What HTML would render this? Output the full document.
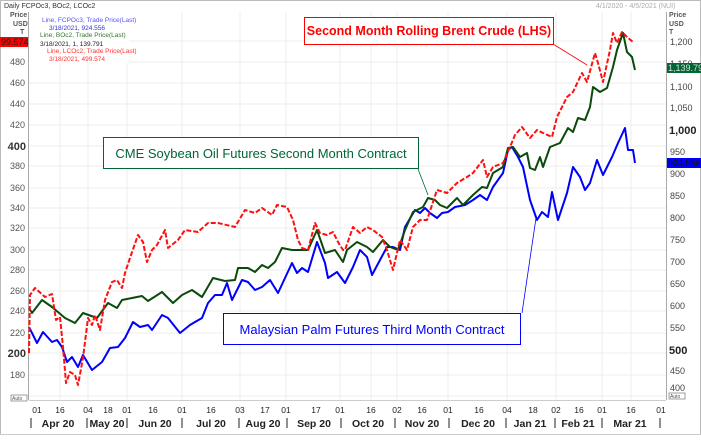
<!DOCTYPE html>
<html><head><meta charset="utf-8"><style>
body{margin:0;background:#fff;}
svg{display:block;font-family:"Liberation Sans",sans-serif;}
</style></head><body>
<svg width="701" height="440" viewBox="0 0 701 440">
<rect x="0" y="0" width="701" height="440" fill="#fff"/>
<rect x="0.5" y="0.5" width="700" height="434" fill="none" stroke="#bbb"/>
<rect x="29" y="12" width="637" height="388" fill="#fff"/>
<g stroke="#ececec" stroke-width="1">
<line x1="29" y1="62" x2="666" y2="62"/><line x1="29" y1="83" x2="666" y2="83"/><line x1="29" y1="104" x2="666" y2="104"/><line x1="29" y1="125" x2="666" y2="125"/><line x1="29" y1="146" x2="666" y2="146"/><line x1="29" y1="166" x2="666" y2="166"/><line x1="29" y1="188" x2="666" y2="188"/><line x1="29" y1="208" x2="666" y2="208"/><line x1="29" y1="228" x2="666" y2="228"/><line x1="29" y1="250" x2="666" y2="250"/><line x1="29" y1="270" x2="666" y2="270"/><line x1="29" y1="291" x2="666" y2="291"/><line x1="29" y1="311" x2="666" y2="311"/><line x1="29" y1="333" x2="666" y2="333"/><line x1="29" y1="353" x2="666" y2="353"/><line x1="29" y1="375" x2="666" y2="375"/><line x1="29" y1="396" x2="666" y2="396"/><line x1="29" y1="41" x2="666" y2="41"/>
<line x1="60" y1="12" x2="60" y2="400"/><line x1="88" y1="12" x2="88" y2="400"/><line x1="127" y1="12" x2="127" y2="400"/><line x1="182" y1="12" x2="182" y2="400"/><line x1="240" y1="12" x2="240" y2="400"/><line x1="286" y1="12" x2="286" y2="400"/><line x1="340" y1="12" x2="340" y2="400"/><line x1="371" y1="12" x2="371" y2="400"/><line x1="397" y1="12" x2="397" y2="400"/><line x1="448" y1="12" x2="448" y2="400"/><line x1="507" y1="12" x2="507" y2="400"/><line x1="556" y1="12" x2="556" y2="400"/><line x1="602" y1="12" x2="602" y2="400"/><line x1="631" y1="12" x2="631" y2="400"/>
</g>
<line x1="28.5" y1="12" x2="28.5" y2="400" stroke="#aaa"/>
<line x1="666.5" y1="12" x2="666.5" y2="400" stroke="#aaa"/>
<line x1="29" y1="400.5" x2="666" y2="400.5" stroke="#ccc"/>
<line x1="0" y1="434.5" x2="701" y2="434.5" stroke="#ccc"/>
<text x="4" y="8" font-size="7" fill="#333">Daily  FCPOc3, BOc2, LCOc2</text>
<text x="596" y="8" font-size="7" fill="#aaa">4/1/2020 - 4/5/2021 (NUI)</text>
<g font-size="7" fill="#555" font-weight="bold"><text x="10" y="17">Price</text><text x="13" y="26">USD</text><text x="20" y="34">T</text>
<text x="669" y="17">Price</text><text x="669" y="26">USD</text><text x="669" y="34">T</text></g>
<rect x="29" y="12" width="100" height="51" fill="#fff"/>
<g font-size="6.5"><text x="42" y="22" fill="#55f">Line, FCPOc3, Trade Price(Last)</text><text x="49" y="30" fill="#33c">3/18/2021, 924.556</text>
<text x="40" y="37" fill="#373">Line, BOc2, Trade Price(Last)</text><text x="40" y="46" fill="#222">3/18/2021, 1, 139.791</text>
<text x="47" y="53" fill="#f33">Line, LCOc2, Trade Price(Last)</text><text x="49" y="61" fill="#f33">3/18/2021, 499.574</text></g>
<rect x="0" y="37" width="28" height="10" fill="#f00"/><text x="1" y="45" font-size="9" fill="#222">99.574</text>
<g font-size="9" fill="#555" text-anchor="end">
<text x="25" y="65">480</text><text x="25" y="86">460</text><text x="25" y="107">440</text><text x="25" y="128">420</text><text x="26" y="150" font-size="11" font-weight="bold" fill="#333">400</text><text x="25" y="169">380</text><text x="25" y="191">360</text><text x="25" y="211">340</text><text x="25" y="231">320</text><text x="25" y="253">300</text><text x="25" y="273">280</text><text x="25" y="294">260</text><text x="25" y="314">240</text><text x="25" y="336">220</text><text x="26" y="357" font-size="11" font-weight="bold" fill="#333">200</text><text x="25" y="378">180</text></g>
<g font-size="9" fill="#444">
<text x="670" y="45">1,200</text><text x="670" y="67">1,150</text><text x="670" y="90">1,100</text><text x="670" y="111">1,050</text><text x="669" y="134" font-size="11" font-weight="bold" fill="#222">1,000</text><text x="670" y="155">950</text><text x="670" y="177">900</text><text x="670" y="199">850</text><text x="670" y="221">800</text><text x="670" y="243">750</text><text x="670" y="265">700</text><text x="670" y="287">650</text><text x="670" y="309">600</text><text x="670" y="331">550</text><text x="669" y="354" font-size="11" font-weight="bold" fill="#222">500</text><text x="670" y="374">450</text><text x="670" y="391">400</text></g>
<rect x="667" y="63" width="34" height="10" fill="#063"/><text x="668" y="71" font-size="9" fill="#ddd">1,139.79</text>
<rect x="667" y="158" width="34" height="10" fill="#00f"/><text x="668" y="166" font-size="9" fill="#111">924.556</text>
<rect x="11" y="395" width="16" height="6" fill="#fff" stroke="#777" stroke-width="0.7"/><text x="12" y="400" font-size="5" fill="#555">Auto</text>
<rect x="669" y="393" width="16" height="6" fill="#fff" stroke="#777" stroke-width="0.7"/><text x="670" y="398" font-size="5" fill="#555">Auto</text>
<g font-size="8.5" fill="#222" text-anchor="middle">
<text x="37" y="413">01</text><text x="60" y="413">16</text><text x="88" y="413">04</text><text x="108" y="413">18</text><text x="127" y="413">01</text><text x="153" y="413">16</text><text x="182" y="413">01</text><text x="211" y="413">16</text><text x="240" y="413">03</text><text x="265" y="413">17</text><text x="286" y="413">01</text><text x="316" y="413">17</text><text x="340" y="413">01</text><text x="371" y="413">16</text><text x="397" y="413">02</text><text x="422" y="413">16</text><text x="448" y="413">01</text><text x="479" y="413">16</text><text x="507" y="413">04</text><text x="533" y="413">18</text><text x="556" y="413">02</text><text x="579" y="413">16</text><text x="602" y="413">01</text><text x="631" y="413">16</text><text x="661" y="413">01</text></g>
<g font-size="10.5" font-weight="bold" fill="#222" text-anchor="middle">
<text x="58" y="427">Apr 20</text><text x="107" y="427">May 20</text><text x="155" y="427">Jun 20</text><text x="211" y="427">Jul 20</text><text x="263" y="427">Aug 20</text><text x="314" y="427">Sep 20</text><text x="368" y="427">Oct 20</text><text x="422" y="427">Nov 20</text><text x="478" y="427">Dec 20</text><text x="530" y="427">Jan 21</text><text x="578" y="427">Feb 21</text><text x="630" y="427">Mar 21</text></g>
<g stroke="#222" stroke-width="1"><line x1="31" y1="418" x2="31" y2="428"/><line x1="87" y1="418" x2="87" y2="428"/><line x1="127" y1="418" x2="127" y2="428"/><line x1="182" y1="418" x2="182" y2="428"/><line x1="239" y1="418" x2="239" y2="428"/><line x1="287" y1="418" x2="287" y2="428"/><line x1="341" y1="418" x2="341" y2="428"/><line x1="395" y1="418" x2="395" y2="428"/><line x1="449" y1="418" x2="449" y2="428"/><line x1="506" y1="418" x2="506" y2="428"/><line x1="555" y1="418" x2="555" y2="428"/><line x1="602" y1="418" x2="602" y2="428"/><line x1="660" y1="418" x2="660" y2="428"/></g>
<g fill="none" stroke-width="2" stroke-linejoin="round">
<polyline stroke="#0000ff" points="29,327 37,343 43,332 52,342 57,340 62,347 67,362 72,357 78,367 83,355 92,370 102,362 110,348 118,347 125,338 133,322 140,327 148,325 152,330 162,315 168,318 180,333 190,325 195,322 202,318 208,303 215,295 222,295 227,283 232,300 242,280 248,282 255,290 262,287 270,280 278,293 292,263 297,273 302,268 308,272 317,242 325,263 328,278 337,272 345,283 353,267 360,250 367,257 372,275 380,260 387,247 393,247 400,250 405,227 415,210 420,213 425,208 430,213 437,218 442,213 448,212 455,207 465,205 473,200 480,195 487,200 493,187 503,173 508,150 512,147 518,157 523,167 530,200 537,220 542,212 548,217 552,192 558,220 567,193 573,167 580,177 585,190 590,183 597,160 603,175 612,157 618,143 625,128 628,150 633,150 635,163"/>
<polyline stroke="#0a4a0a" points="29,308 32,313 42,300 52,307 65,318 75,323 83,313 97,318 108,303 117,308 122,300 132,298 142,296 148,301 162,292 173,303 182,295 192,290 202,297 213,278 225,281 235,280 238,268 248,268 255,272 262,265 268,268 275,262 282,248 292,250 298,250 308,250 317,230 325,253 335,250 343,262 347,250 357,242 367,247 373,252 383,240 390,247 398,250 405,230 413,212 423,207 428,198 435,200 440,205 447,208 457,198 463,205 473,195 482,187 487,188 493,173 503,167 508,148 513,147 520,157 527,153 530,168 535,170 540,157 543,167 550,147 560,143 568,128 573,132 578,118 585,120 590,107 593,87 600,92 607,88 613,67 617,50 623,33 627,52 632,57 635,70"/>
<polyline stroke="#ff1010" stroke-dasharray="5,2" points="29,353 30,295 35,288 45,297 52,294 56,320 60,317 63,347 66,383 70,372 75,375 78,385 83,358 88,318 92,325 95,315 100,330 105,300 112,282 117,280 122,288 125,273 130,258 138,235 143,242 147,262 152,250 157,245 165,230 168,248 178,240 185,230 198,232 208,223 218,223 235,227 245,210 255,213 262,208 272,215 277,205 287,207 293,220 298,240 302,248 308,250 315,223 320,233 327,235 333,232 338,242 343,250 345,250 353,227 360,233 367,227 373,230 382,237 387,250 393,270 400,240 407,250 413,227 420,220 427,220 437,190 447,193 457,183 467,177 473,173 483,160 487,177 493,167 503,163 510,147 515,135 522,127 530,138 537,130 543,133 552,137 557,117 567,97 573,92 582,73 587,82 595,53 598,63 603,82 610,50 613,33 617,43 622,32 627,37 633,42"/>
</g>
<line x1="553" y1="44" x2="587" y2="65" stroke="#f00" stroke-width="0.8"/>
<line x1="418" y1="169" x2="428" y2="195" stroke="#063" stroke-width="0.8"/>
<line x1="522" y1="313" x2="536" y2="218" stroke="#00f" stroke-width="0.8"/>
<rect x="304.5" y="17.5" width="249" height="27" fill="#fff" stroke="#f00"/>
<text x="429" y="35" font-size="12.5" font-weight="bold" fill="#f00" text-anchor="middle">Second Month Rolling Brent Crude (LHS)</text>
<rect x="103.5" y="137.5" width="315" height="31" fill="#fff" stroke="#063"/>
<text x="261" y="158" font-size="13" fill="#063" text-anchor="middle">CME Soybean Oil Futures Second Month Contract</text>
<rect x="223.5" y="313.5" width="297" height="31" fill="#fff" stroke="#00f"/>
<text x="372" y="334" font-size="13" fill="#00f" text-anchor="middle">Malaysian Palm Futures Third Month Contract</text>
</svg>
</body></html>
